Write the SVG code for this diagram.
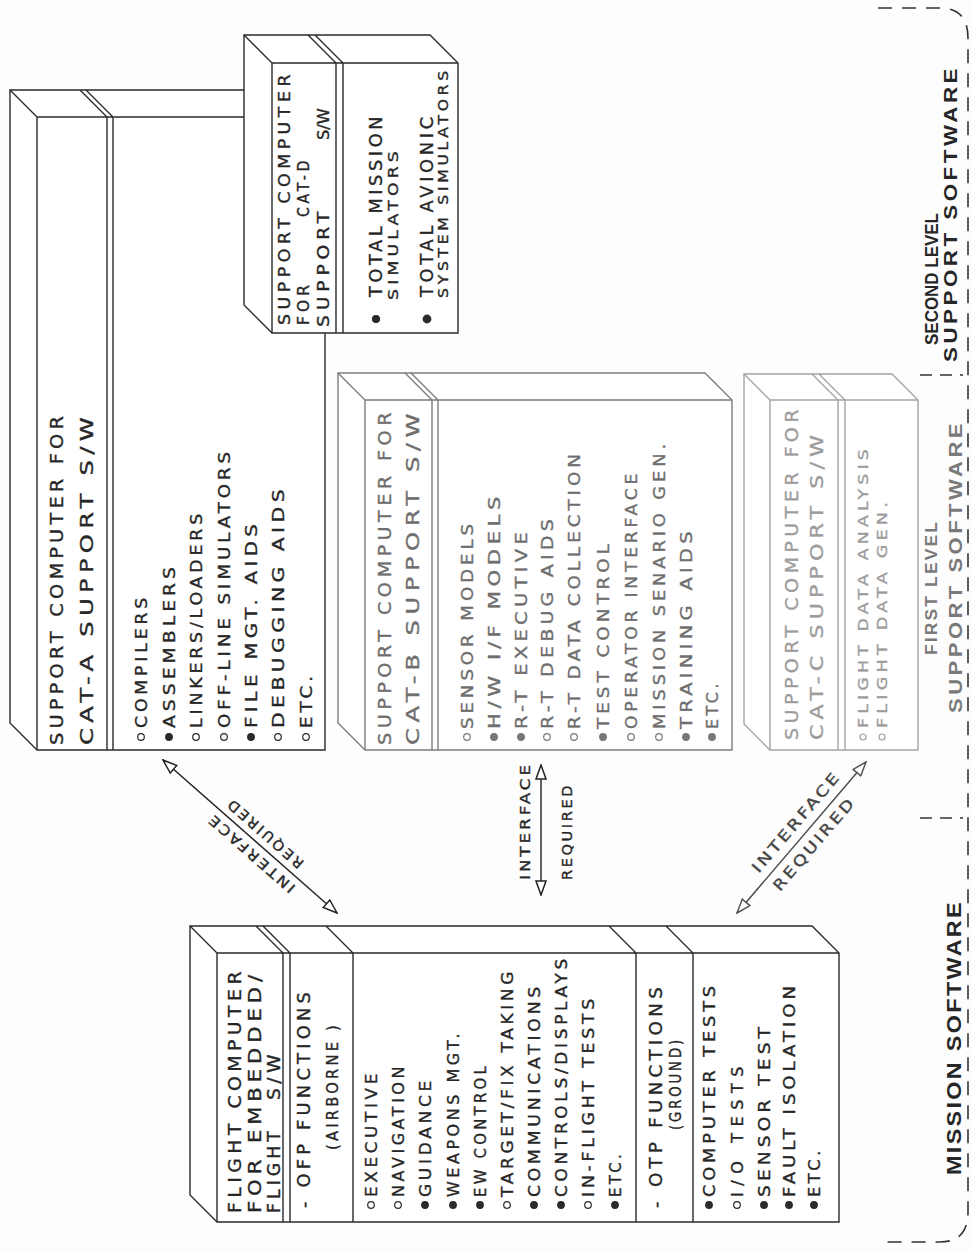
<svg xmlns="http://www.w3.org/2000/svg" width="972" height="1252" viewBox="0 0 972 1252">
<style>
text{font-family:"DejaVu Sans","Liberation Sans",Arial,sans-serif;fill:#262626;stroke:#262626;stroke-width:0.35}
.it{font-size:16px;letter-spacing:3.5px}
.ti{font-size:17px;letter-spacing:4px}
.tt{font-size:17.5px;letter-spacing:4px}
.t5{font-size:15.5px;letter-spacing:4px}
.sm{font-size:14.5px;letter-spacing:3.5px}
.lb{font-family:"Liberation Sans",Arial,sans-serif;font-size:19px;font-weight:bold;letter-spacing:3px;stroke:none}
.al{font-size:14px;letter-spacing:2.5px}
.ln{fill:none;stroke:#2a2a2a;stroke-width:1.4}
.fc{fill:#fff;stroke:#2a2a2a;stroke-width:1.4}
.g3 text{fill:#6e6e6e;stroke:#6e6e6e}
.g3 .ln,.g3 .fc{stroke:#7c7c7c}
.g4 text{fill:#9c9c9c;stroke:#9c9c9c}
.g4 .ln,.g4 .fc{stroke:#a4a4a4}
.bo{fill:#fff;stroke:#2a2a2a;stroke-width:1.2}
.bf{fill:#2a2a2a;stroke:#2a2a2a;stroke-width:1.2}
.g3 .bo{stroke:#777}.g3 .bf{fill:#777;stroke:#777}
.g4 .bo{stroke:#a0a0a0}.g4 .bf{fill:#a0a0a0;stroke:#a0a0a0}
.dash{fill:none;stroke:#333;stroke-width:1.6;stroke-dasharray:14 10}
</style>
<defs>
<marker id="ah" viewBox="0 0 16 12" refX="15" refY="6" markerWidth="16" markerHeight="12" markerUnits="userSpaceOnUse" orient="auto-start-reverse"><path d="M1,1 L15,6 L1,11 Z" fill="#fff" stroke="#222" stroke-width="1.5"/></marker>
<marker id="ahg" viewBox="0 0 16 12" refX="15" refY="6" markerWidth="16" markerHeight="12" markerUnits="userSpaceOnUse" orient="auto-start-reverse"><path d="M1,1 L15,6 L1,11 Z" fill="#fff" stroke="#555" stroke-width="1.5"/></marker>
</defs>
<rect width="972" height="1252" fill="#fdfdfd"/>
<g transform="translate(0,1252) rotate(-90)">

<g id="flight-computer">
<path class="fc" d="M30,217 L57,190 L326,190 L326,812 L299,839 L30,839 Z"/>
<path class="ln" d="M30,217 L299,217 L326,190 M299,217 L299,839 M30,283 L299,283 L326,256 M30,290 L299,290 L326,263 M30,353 L299,353 L326,326 M30,636 L299,636 L326,609 M30,693 L299,693 L326,666"/>
<text class="ti" x="39" y="241" textLength="246" lengthAdjust="spacingAndGlyphs">FLIGHT COMPUTER</text>
<text class="ti" x="39" y="261" textLength="243" lengthAdjust="spacingAndGlyphs">FOR EMBEDDED/</text>
<text class="ti" x="39" y="280" textLength="86" lengthAdjust="spacingAndGlyphs">FLIGHT</text>
<text class="ti" x="152" y="280" textLength="50" lengthAdjust="spacingAndGlyphs">S/W</text>
<text class="ti" x="44" y="310" textLength="220" lengthAdjust="spacingAndGlyphs">- OFP  FUNCTIONS</text>
<text class="it" x="102" y="338" textLength="128" lengthAdjust="spacingAndGlyphs">(AIRBORNE )</text>
<circle class="bo" cx="47" cy="371" r="3.3"/><text class="it" x="55" y="377" textLength="127" lengthAdjust="spacingAndGlyphs">EXECUTIVE</text>
<circle class="bo" cx="47" cy="398" r="3.3"/><text class="it" x="55" y="404" textLength="134" lengthAdjust="spacingAndGlyphs">NAVIGATION</text>
<circle class="bf" cx="47" cy="425" r="3.3"/><text class="it" x="55" y="431" textLength="120" lengthAdjust="spacingAndGlyphs">GUIDANCE</text>
<circle class="bf" cx="47" cy="453" r="3.3"/><text class="it" x="55" y="459" textLength="167" lengthAdjust="spacingAndGlyphs">WEAPONS  MGT.</text>
<circle class="bf" cx="47" cy="480" r="3.3"/><text class="it" x="55" y="486" textLength="134" lengthAdjust="spacingAndGlyphs">EW CONTROL</text>
<circle class="bo" cx="47" cy="507" r="3.3"/><text class="it" x="55" y="513" textLength="229" lengthAdjust="spacingAndGlyphs">TARGET/FIX TAKING</text>
<circle class="bf" cx="47" cy="534" r="3.3"/><text class="it" x="55" y="540" textLength="214" lengthAdjust="spacingAndGlyphs">COMMUNICATIONS</text>
<circle class="bf" cx="47" cy="561" r="3.3"/><text class="it" x="55" y="567" textLength="242" lengthAdjust="spacingAndGlyphs">CONTROLS/DISPLAYS</text>
<circle class="bo" cx="47" cy="588" r="3.3"/><text class="it" x="55" y="594" textLength="202" lengthAdjust="spacingAndGlyphs">IN-FLIGHT TESTS</text>
<circle class="bf" cx="47" cy="615" r="3.3"/><text class="it" x="55" y="621" textLength="46" lengthAdjust="spacingAndGlyphs">ETC.</text>
<text class="ti" x="44" y="662" textLength="225" lengthAdjust="spacingAndGlyphs">- OTP  FUNCTIONS</text>
<text class="it" x="122" y="681" textLength="93" lengthAdjust="spacingAndGlyphs">(GROUND)</text>
<circle class="bf" cx="47" cy="709" r="3.3"/><text class="it" x="55" y="715" textLength="215" lengthAdjust="spacingAndGlyphs">COMPUTER TESTS</text>
<circle class="bo" cx="47" cy="737" r="3.3"/><text class="it" x="55" y="743" textLength="134" lengthAdjust="spacing">I/O  TESTS</text>
<circle class="bf" cx="47" cy="764" r="3.3"/><text class="it" x="55" y="770" textLength="174" lengthAdjust="spacingAndGlyphs">SENSOR  TEST</text>
<circle class="bf" cx="47" cy="789" r="3.3"/><text class="it" x="55" y="795" textLength="215" lengthAdjust="spacingAndGlyphs">FAULT ISOLATION</text>
<circle class="bf" cx="47" cy="814" r="3.3"/><text class="it" x="55" y="820" textLength="50" lengthAdjust="spacingAndGlyphs">ETC.</text>
</g>

<g id="cat-a">
<path class="fc" d="M502,37 L529,10 L1162,10 L1162,298 L1135,325 L502,325 Z"/>
<path class="ln" d="M502,37 L1135,37 L1162,10 M1135,37 L1135,325 M502,107 L1135,107 L1162,80 M502,113 L1135,113 L1162,86"/>
<text class="tt" style="font-size:18.5px" x="507" y="63" textLength="333" lengthAdjust="spacingAndGlyphs">SUPPORT COMPUTER FOR</text>
<text class="tt" style="font-size:18.5px" x="507" y="93" textLength="333" lengthAdjust="spacingAndGlyphs">CAT-A  SUPPORT   S/W</text>
<circle class="bo" cx="515" cy="141" r="3.3"/><text class="it" x="524" y="147" textLength="134" lengthAdjust="spacingAndGlyphs">COMPILERS</text>
<circle class="bf" cx="515" cy="169" r="3.3"/><text class="it" x="524" y="175" textLength="165" lengthAdjust="spacingAndGlyphs">ASSEMBLERS</text>
<circle class="bo" cx="515" cy="196" r="3.3"/><text class="it" x="524" y="202" textLength="218" lengthAdjust="spacingAndGlyphs">LINKERS/LOADERS</text>
<circle class="bo" cx="515" cy="224" r="3.3"/><text class="it" x="524" y="230" textLength="280" lengthAdjust="spacingAndGlyphs">OFF-LINE  SIMULATORS</text>
<circle class="bf" cx="515" cy="251" r="3.3"/><text class="it" x="524" y="257" textLength="208" lengthAdjust="spacingAndGlyphs">FILE MGT. AIDS</text>
<circle class="bo" cx="515" cy="278" r="3.3"/><text class="it" x="524" y="284" textLength="243" lengthAdjust="spacingAndGlyphs">DEBUGGING  AIDS</text>
<circle class="bo" cx="515" cy="306" r="3.3"/><text class="it" x="524" y="312" textLength="56" lengthAdjust="spacingAndGlyphs">ETC.</text>
</g>

<g id="cat-b" class="g3">
<path class="fc" d="M502,365 L529,338 L879,338 L879,705 L852,732 L502,732 Z"/>
<path class="ln" d="M502,365 L852,365 L879,338 M852,365 L852,732 M502,432 L852,432 L879,405 M502,438 L852,438 L879,411"/>
<text class="tt" x="507" y="391" textLength="337" lengthAdjust="spacingAndGlyphs">SUPPORT COMPUTER FOR</text>
<text class="tt" x="507" y="419" textLength="337" lengthAdjust="spacingAndGlyphs">CAT-B  SUPPORT   S/W</text>
<circle class="bo" cx="515" cy="467" r="3.3"/><text class="it" x="523" y="473" textLength="209" lengthAdjust="spacingAndGlyphs">SENSOR MODELS</text>
<circle class="bf" cx="515" cy="494" r="3.3"/><text class="it" x="523" y="500" textLength="237" lengthAdjust="spacingAndGlyphs">H/W I/F MODELS</text>
<circle class="bf" cx="515" cy="521" r="3.3"/><text class="it" x="523" y="527" textLength="201" lengthAdjust="spacingAndGlyphs">R-T EXECUTIVE</text>
<circle class="bo" cx="515" cy="547" r="3.3"/><text class="it" x="523" y="553" textLength="214" lengthAdjust="spacingAndGlyphs">R-T DEBUG AIDS</text>
<circle class="bo" cx="515" cy="574" r="3.3"/><text class="it" x="523" y="580" textLength="279" lengthAdjust="spacingAndGlyphs">R-T DATA COLLECTION</text>
<circle class="bf" cx="515" cy="603" r="3.3"/><text class="it" x="523" y="609" textLength="189" lengthAdjust="spacingAndGlyphs">TEST CONTROL</text>
<circle class="bo" cx="515" cy="631" r="3.3"/><text class="it" x="523" y="637" textLength="259" lengthAdjust="spacingAndGlyphs">OPERATOR INTERFACE</text>
<circle class="bo" cx="515" cy="659" r="3.3"/><text class="it" x="523" y="665" textLength="289" lengthAdjust="spacingAndGlyphs">MISSION SENARIO  GEN.</text>
<circle class="bf" cx="515" cy="686" r="3.3"/><text class="it" x="523" y="692" textLength="202" lengthAdjust="spacingAndGlyphs">TRAINING AIDS</text>
<circle class="bf" cx="515" cy="712" r="3.3"/><text class="it" x="523" y="718" textLength="49" lengthAdjust="spacingAndGlyphs">ETC.</text>
</g>

<g id="cat-c" class="g4">
<path class="fc" d="M502,770 L528,744 L878,744 L878,892 L852,918 L502,918 Z"/>
<path class="ln" d="M502,770 L852,770 L878,744 M852,770 L852,918 M502,838 L852,838 L878,812 M502,845 L852,845 L878,819"/>
<text class="tt" x="512" y="798" textLength="335" lengthAdjust="spacingAndGlyphs">SUPPORT COMPUTER FOR</text>
<text class="tt" x="512" y="823" textLength="310" lengthAdjust="spacingAndGlyphs">CAT-C  SUPPORT   S/W</text>
<circle class="bo" cx="515" cy="863" r="3"/><text class="sm" x="524" y="868" textLength="283" lengthAdjust="spacingAndGlyphs">FLIGHT DATA ANALYSIS</text>
<circle class="bo" cx="515" cy="882" r="3"/><text class="sm" x="524" y="887" textLength="230" lengthAdjust="spacingAndGlyphs">FLIGHT DATA GEN.</text>
</g>

<g id="cat-d">
<path class="fc" d="M919,272 L947,244 L1217,244 L1217,430 L1189,458 L919,458 Z"/>
<path class="ln" d="M919,272 L1189,272 L1217,244 M1189,272 L1189,458 M919,336 L1189,336 L1217,308 M919,343 L1189,343 L1217,315"/>
<text class="t5" x="927" y="290" textLength="255" lengthAdjust="spacingAndGlyphs">SUPPORT COMPUTER</text>
<text class="t5" x="927" y="309" textLength="44" lengthAdjust="spacingAndGlyphs">FOR</text>
<text class="t5" x="1035" y="309" textLength="60" lengthAdjust="spacingAndGlyphs">CAT-D</text>
<text class="t5" x="925" y="329" textLength="120" lengthAdjust="spacingAndGlyphs">SUPPORT</text>
<text class="t5" style="letter-spacing:0" x="1112" y="329" textLength="32" lengthAdjust="spacingAndGlyphs">S/W</text>
<circle class="bf" cx="933" cy="376" r="3.5"/><text class="it" style="font-size:17px" x="955" y="382" textLength="184" lengthAdjust="spacingAndGlyphs">TOTAL MISSION</text>
<text class="sm" x="952" y="398" textLength="153" lengthAdjust="spacingAndGlyphs">SIMULATORS</text>
<circle class="bf" cx="933" cy="427" r="3.8"/><text class="it" style="font-size:17px" x="955" y="433" textLength="184" lengthAdjust="spacingAndGlyphs">TOTAL AVIONIC</text>
<text class="sm" x="954" y="448" textLength="231" lengthAdjust="spacingAndGlyphs">SYSTEM SIMULATORS</text>
</g>

<g id="connectors">
<line x1="339" y1="337" x2="492" y2="163" stroke="#222" stroke-width="1.4" marker-start="url(#ah)" marker-end="url(#ah)"/>
<line x1="357" y1="541" x2="487" y2="541" stroke="#222" stroke-width="1.4" marker-start="url(#ah)" marker-end="url(#ah)"/>
<line x1="339" y1="737" x2="490" y2="866" stroke="#444" stroke-width="1.4" marker-start="url(#ahg)" marker-end="url(#ahg)"/>
</g>

<g id="labels-arrows">
<g transform="translate(339,337) rotate(-48.7)">
<text class="al" x="160" y="-7" text-anchor="end" textLength="112" lengthAdjust="spacingAndGlyphs">INTERFACE</text>
<text class="al" x="156" y="17" text-anchor="end" textLength="98" lengthAdjust="spacingAndGlyphs">REQUIRED</text>
</g>
<text class="al" x="372" y="530" textLength="118" lengthAdjust="spacingAndGlyphs">INTERFACE</text>
<text class="al" x="372" y="572" textLength="97" lengthAdjust="spacingAndGlyphs">REQUIRED</text>
<g transform="translate(339,737) rotate(40.5)">
<text class="al" x="172" y="-9" text-anchor="end" textLength="128" lengthAdjust="spacingAndGlyphs" style="fill:#444;stroke:#444;font-size:15px">INTERFACE</text>
<text class="al" x="162" y="19" text-anchor="end" textLength="118" lengthAdjust="spacingAndGlyphs" style="fill:#444;stroke:#444;font-size:15px">REQUIRED</text>
</g>
</g>

<g id="group-labels">
<path class="dash" d="M1244,878 L1244,940 Q1244,968 1214,968 L40,968 Q10,968 10,940 L10,878"/>
<path class="dash" d="M434,920 L434,963 M877,920 L877,963" style="stroke-dasharray:12 8"/>
<text class="lb" x="77" y="961" textLength="275" lengthAdjust="spacingAndGlyphs" style="font-size:20px;letter-spacing:2px">MISSION SOFTWARE</text>
<text class="lb" x="597" y="937" textLength="135" lengthAdjust="spacingAndGlyphs" style="fill:#7a7a7a;font-size:16px;letter-spacing:2px">FIRST LEVEL</text>
<text class="lb" x="539" y="962" textLength="293" lengthAdjust="spacingAndGlyphs" style="fill:#7a7a7a">SUPPORT SOFTWARE</text>
<text class="lb" x="907" y="938" textLength="132" lengthAdjust="spacingAndGlyphs" style="font-size:18px;letter-spacing:0">SECOND LEVEL</text>
<text class="lb" x="890" y="957" textLength="297" lengthAdjust="spacingAndGlyphs">SUPPORT SOFTWARE</text>
</g>
</g>
</svg>
